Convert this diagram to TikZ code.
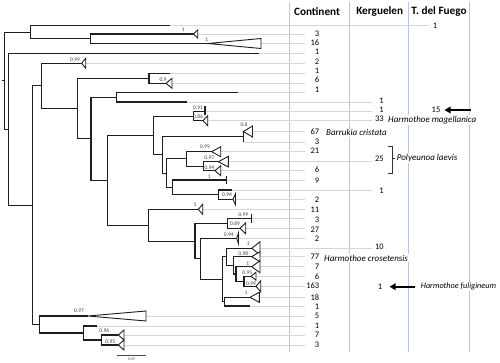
\documentclass[tikz,border=0pt]{standalone}
\usepackage{fontspec}
\setmainfont{Carlito}
\usetikzlibrary{arrows.meta}
\definecolor{treec}{HTML}{1E1E1E}
\definecolor{greyl}{HTML}{D6D6D6}
\definecolor{bluel}{HTML}{B4C7E7}
\tikzset{
 br/.style={draw=treec, line width=1.05pt},
 trist/.style={draw=treec, line width=0.9pt, fill=white, line join=miter},
 tickst/.style={draw=treec, line width=1.05pt},
 gl/.style={draw=greyl, line width=0.7pt},
 bl/.style={draw=bluel, line width=0.9pt},
 bsup/.style={font=\fontsize{5.5}{6}\selectfont, text=black!75, inner sep=0pt},
 num/.style={font=\fontsize{8.5}{9}\selectfont, inner sep=0pt, anchor=east},
 hdr/.style={font=\bfseries\fontsize{11.2}{12}\selectfont, inner sep=0pt},
 spec/.style={font=\itshape\fontsize{9}{10}\selectfont, fill=white, inner sep=1pt, anchor=west},
 arr/.style={draw=black, line width=1.8pt, -{Triangle[length=6pt,width=6.5pt]}},
}
\newcommand{\ctri}[4]{\draw[trist] (#1,#2) -- (#3,#2-#4) -- (#3,#2+#4) -- cycle;}
\begin{document}
\begin{tikzpicture}[x=1pt,y=-1pt]
\useasboundingbox[fill=white] (0,0) rectangle (500,363);
% column separators
\foreach \xx in {289,349.3,408.3,469} \draw[bl] (\xx,2) -- (\xx,351.5);
% grey leader lines
\foreach \xs/\yy/\xe in {170/25.5/429, 197.7/34/305, 261/43.5/305, 259/53.5/305, 85.7/63.3/305,
 170/73.3/305, 172/83.3/305, 238/92.3/305, 186.7/102/372, 205/111.7/372, 207.7/120.7/372,
 252.5/131.5/305, 243.3/142/305, 220.7/151.7/305, 228.3/161.7/372, 220.7/170.7/305,
 226.7/180/305, 232/190/372, 235.5/199.3/305, 202.7/209.3/305, 251.7/218.3/305,
 245.7/228.3/305, 238.5/238.3/305, 260/248.3/372, 260/256.7/305, 260/266.7/305,
 256/276.3/305, 260.7/286.3/305, 259.3/297.3/305, 250/306/305, 146/316/305,
 96.7/326/305, 124/335/305, 124/345/305}
 \draw[gl] (\xs,\yy) -- (\xe,\yy);
% internal nodes
\coordinate (rstub) at (2.2,80.73);
\coordinate (root) at (4.3,80.73);
\coordinate (nA) at (30.3,32.1);
\coordinate (nB) at (90.7,38.75);
\coordinate (nC) at (8.3,129.36);
\coordinate (nD) at (32.3,205.21);
\coordinate (nE) at (41.3,85.92);
\coordinate (nF) at (77.3,108.53);
\coordinate (nG) at (149,78.3);
\coordinate (nH) at (91,138.76);
\coordinate (nI) at (116.7,97.15);
\coordinate (nJ) at (107.7,180.37);
\coordinate (nK) at (153.3,135.57);
\coordinate (nL) at (193.3,116.2);
\coordinate (nM) at (162.3,154.94);
\coordinate (nN) at (243.3,136.75);
\coordinate (nO) at (166.7,173.14);
\coordinate (nP) at (186.7,158.95);
\coordinate (nQ) at (203.3,166.2);
\coordinate (nR) at (172.7,187.33);
\coordinate (nS) at (218.3,194.65);
\coordinate (nW) at (148.3,225.17);
\coordinate (nX) at (195,241.04);
\coordinate (nY) at (227.7,223.3);
\coordinate (nAA) at (200.7,258.77);
\coordinate (nA2) at (222.7,279.24);
\coordinate (nB2) at (226.7,256.83);
\coordinate (nC2) at (224.3,301.65);
\coordinate (nD2) at (233.3,265.35);
\coordinate (nE2) at (236,274);
\coordinate (nF2) at (244,281.3);
\coordinate (nZ) at (39.3,324.5);
\coordinate (nZ2) at (83.3,333);
\coordinate (nZ3) at (101.7,340);
% tips / clade apices
\coordinate (t1) at (170,25.5);
\coordinate (t2) at (193.3,34);
\coordinate (t3) at (208,43.5);
\coordinate (t4) at (259,53.5);
\coordinate (t5) at (81.7,63.3);
\coordinate (t6) at (170,73.3);
\coordinate (t7) at (166,83.3);
\coordinate (t8) at (238,92.3);
\coordinate (t9) at (186.7,102);
\coordinate (t10) at (205,111.7);
\coordinate (t11) at (203,120.7);
\coordinate (t12) at (243.3,131.5);
\coordinate (t13) at (243.3,142);
\coordinate (t14) at (211.7,151.7);
\coordinate (t15) at (218.3,161.7);
\coordinate (t16) at (215,170.7);
\coordinate (t17) at (226.7,180);
\coordinate (t18) at (232,190);
\coordinate (t19) at (233,199.3);
\coordinate (t20) at (198.3,209.3);
\coordinate (t21) at (251.7,218.3);
\coordinate (t22) at (240,228.3);
\coordinate (t23) at (236.7,238.3);
\coordinate (t24) at (251.7,248.3);
\coordinate (t25) at (251.7,256.7);
\coordinate (t26) at (251.7,266.7);
\coordinate (t27) at (251,276.3);
\coordinate (t28) at (256,286.3);
\coordinate (t29) at (250,297.3);
\coordinate (t30) at (250,306);
\coordinate (t31) at (88,316);
\coordinate (t32) at (96.7,326);
\coordinate (t33) at (118.3,335);
\coordinate (t34) at (118.3,345);
% branches
\draw[br] (rstub) -- (root);
\foreach \p/\c in {root/nA, root/nC, nA/t1, nA/nB, nB/t2, nB/t3, nC/t4, nC/nD, nD/nE, nD/nZ,
 nE/t5, nE/nF, nF/nG, nF/nH, nG/t6, nG/t7, nH/nI, nH/nJ, nI/t8, nI/t9, nJ/nK, nJ/nW,
 nK/nL, nK/nM, nL/t10, nL/t11, nM/nN, nM/nO, nN/t12, nN/t13, nO/nP, nO/nR, nP/t14, nP/nQ,
 nQ/t15, nQ/t16, nR/t17, nR/nS, nS/t18, nS/t19, nW/t20, nW/nX, nX/nY, nX/nAA, nY/t21, nY/t22,
 nAA/t23, nAA/nA2, nA2/nB2, nA2/nC2, nB2/t24, nB2/nD2, nD2/t25, nD2/nE2, nE2/t26, nE2/nF2,
 nF2/t27, nF2/t28, nC2/t29, nC2/t30, nZ/t31, nZ/nZ2, nZ2/t32, nZ2/nZ3, nZ3/t33, nZ3/t34}
 \draw[br] (\p) |- (\c);
% collapsed clades
\ctri{193.3}{34}{197.7}{4}
\ctri{208}{43.5}{261}{5}
\ctri{81.7}{63.3}{85.7}{5}
\ctri{166}{83.3}{172}{5}
\ctri{203}{120.7}{207.7}{5}
\ctri{243.3}{131.5}{252.5}{5.5}
\ctri{211.7}{151.7}{220.7}{5}
\ctri{218.3}{161.7}{228.3}{5.3}
\ctri{215}{170.7}{220.7}{5}
\ctri{233}{199.3}{235.5}{5.5}
\ctri{198.3}{209.3}{202.7}{5}
\ctri{240}{228.3}{245.7}{5.5}
\ctri{236.7}{238.3}{238.5}{5.5}
\ctri{251.7}{248.3}{260}{6.5}
\ctri{251.7}{256.7}{260}{5}
\ctri{251.7}{266.7}{260}{6}
\ctri{251}{276.3}{256}{4}
\ctri{256}{286.3}{260.7}{5.5}
\ctri{250}{297.3}{259.3}{5}
\ctri{88}{316}{146}{5}
\ctri{118.3}{335}{124}{5}
\ctri{118.3}{345}{124}{5}
\draw[tickst] (205,106) -- (205,115);
\draw[tickst] (226.7,176) -- (226.7,184);
\draw[tickst] (251.7,214) -- (251.7,222.7);
% support values
\foreach \xx/\yy/\tt in {183.3/30/1, 206.7/39.5/1, 75/59.5/0.99, 163/80/0.9, 198/108/0.91,
 198/117/0.86, 244/125/0.8, 205/147/0.99, 209.3/157.3/0.97, 209.5/167.3/0.94, 209.3/177/1,
 227/195/0.94, 195/204.5/1, 243.3/215/0.99, 235/224/0.89, 228.7/234.3/0.94, 248.3/244/1,
 243.3/253.5/0.98, 247.7/263.5/1, 247.2/272.3/0.95, 251/283.3/0.99, 246/292.5/1,
 79/311/0.97, 104.3/331/0.96, 110.2/341.7/0.95}
 \node[bsup] at (\xx,\yy) {\tt};
% scale bar
\coordinate (sb1) at (117.3,355);
\coordinate (sb2) at (145.7,355);
\draw[draw=black!70, line width=0.6pt] (sb1) -- (sb2);
\node[font=\fontsize{4}{4}\selectfont, inner sep=0pt, text=black!70] (sbl) at (131.5,359.5) {0.09};
% headers
\node[hdr] (hC) at (317,11.7) {Continent};
\node[hdr] (hK) at (379.7,11.7) {Kerguelen};
\node[hdr] (hT) at (439,11.7) {T. del Fuego};
% continent numbers
\foreach \yy/\tt [count=\i] in {33.3/3, 42.7/16, 52/1, 61.3/2, 70.7/1, 80/6, 89.3/1, 132/67,
 141.7/3, 151/21, 170/6, 181/9, 200/2, 209.3/11, 220/3, 229.3/27, 238.3/2, 256.7/77, 267/7,
 276.3/6, 286/163, 297.3/18, 306.3/1, 316/5, 325.7/1, 335/7, 344.3/3}
 \node[num] (c\i) at (319.5,\yy) {\tt};
% kerguelen numbers
\foreach \yy/\tt [count=\i] in {101/1, 110/1, 119/33, 158.3/25, 190.7/1, 246.7/10}
 \node[num] (k\i) at (384,\yy) {\tt};
\node[num] (kf) at (382.5,286.7) {1};
% tierra del fuego numbers
\node[num, anchor=center] (f1) at (435,26) {1};
\node[num, anchor=center] (f15) at (436,110) {15};
% species labels
\node[spec] (sMag) at (387,120) {Harmothoe magellanica};
\node[spec] (sBar) at (325,132.7) {Barrukia cristata};
\node[spec] (sPol) at (395.7,158.3) {Polyeunoa laevis};
\node[spec] (sCro) at (323,258.3) {Harmothoe crosetensis};
\node[spec, font=\itshape\fontsize{8.2}{9}\selectfont] (sFul) at (419.7,286.5) {Harmothoe fuligineum};
% bracket
\coordinate (bk1) at (388,146);
\coordinate (bk2) at (392,146);
\coordinate (bk3) at (392,173.3);
\coordinate (bk4) at (388,173.3);
\coordinate (bk5) at (392,158.5);
\coordinate (bk6) at (395,158.5);
\draw[draw=black!80, line width=0.8pt] (bk1) -- (bk2) -- (bk3) -- (bk4);
\draw[draw=black!80, line width=0.8pt] (bk5) -- (bk6);
% arrows
\coordinate (a1s) at (470.5,110);
\coordinate (a1e) at (444.5,110);
\coordinate (a2s) at (414.5,286.7);
\coordinate (a2e) at (389.5,286.7);
\draw[arr] (a1s) -- (a1e);
\draw[arr] (a2s) -- (a2e);
\end{tikzpicture}
\end{document}
